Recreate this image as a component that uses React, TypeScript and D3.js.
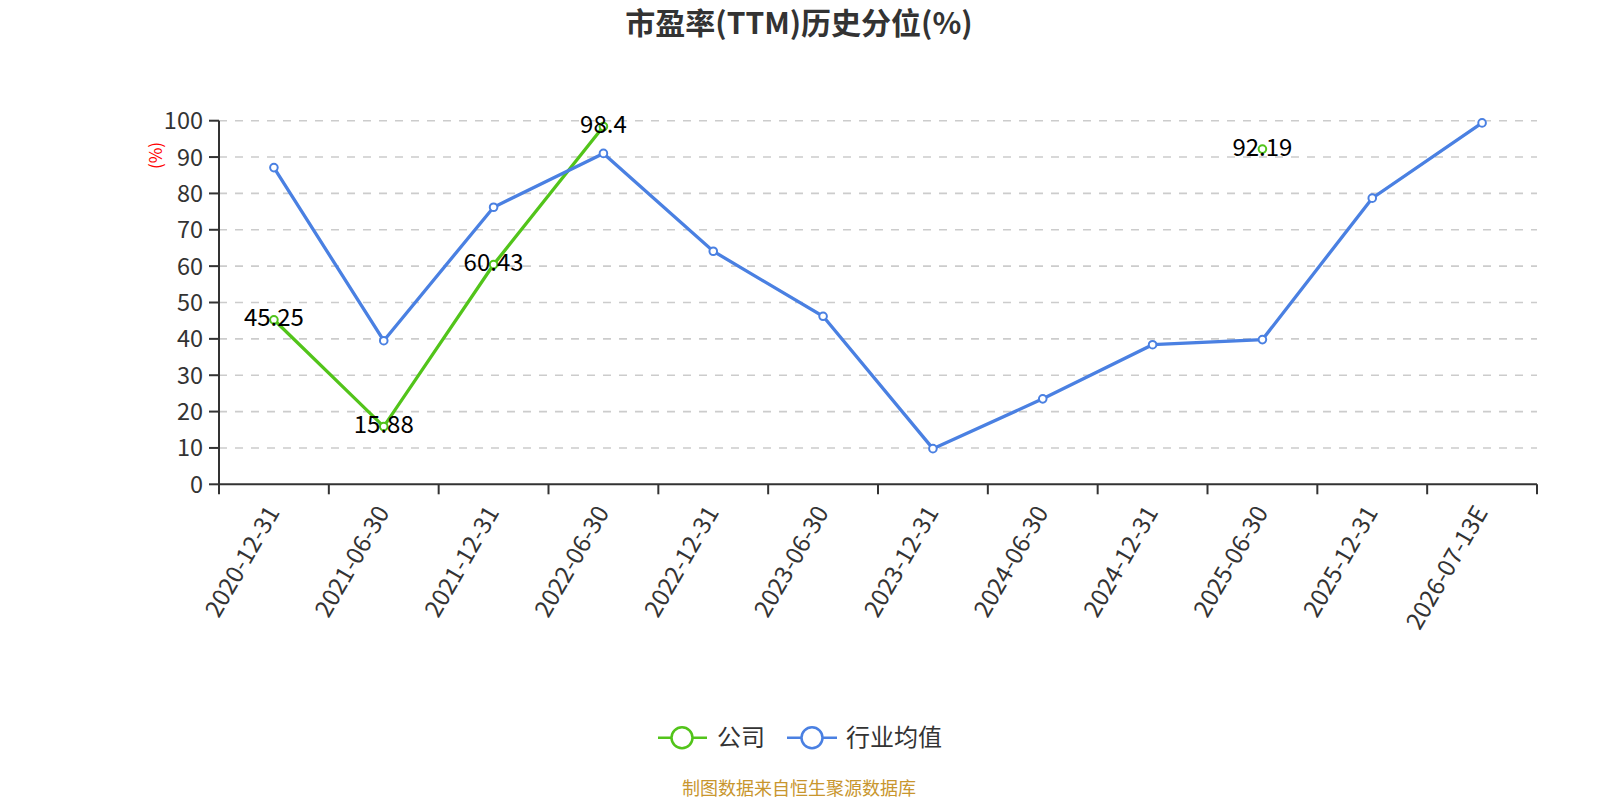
import React from "react";
import * as d3 from "d3";

const categories = [
  "2020-12-31", "2021-06-30", "2021-12-31", "2022-06-30", "2022-12-31", "2023-06-30",
  "2023-12-31", "2024-06-30", "2024-12-31", "2025-06-30", "2025-12-31", "2026-07-13E",
];
const companyValues: (number | null)[] = [45.25, 15.88, 60.43, 98.4, null, null, null, null, null, 92.19, null, null];
const industryValues: (number | null)[] = [87.1, 39.5, 76.2, 91.0, 64.1, 46.2, 9.8, 23.5, 38.4, 39.8, 78.7, 99.4];
const yTicks = [0, 10, 20, 30, 40, 50, 60, 70, 80, 90, 100];

const W = 1600, H = 800;
const left = 219, right = 1537, top = 120.7, bottom = 484.3;
const GREEN = "#52C41A";
const BLUE = "#4A80E2";
const FONT = "'Noto Sans CJK SC', 'Noto Sans', sans-serif";

export default function App() {
  const x = d3.scaleBand().domain(categories).range([left, right]).padding(0);
  const y = d3.scaleLinear().domain([0, 100]).range([bottom, top]);
  const cx = (i: number) => (x(categories[i]) as number) + x.bandwidth() / 2;

  const line = d3
    .line<number | null>()
    .defined((d) => d !== null)
    .x((_, i) => cx(i))
    .y((d) => y(d as number));

  const boundaries = categories.map((c) => x(c) as number).concat([right]);

  return (
    <svg width={W} height={H} style={{ display: "block", position: "absolute", left: 0, top: 0 }} fontFamily={FONT}>
      <rect width={W} height={H} fill="#fff" />
      <text x={799} y={34} textAnchor="middle" fontSize={30} fontWeight="bold" fill="#333">
        市盈率(TTM)历史分位(%)
      </text>

      {/* grid */}
      {yTicks.filter((t) => t > 0).map((t) => (
        <line key={t} x1={left} x2={right} y1={y(t)} y2={y(t)} stroke="#ccc" strokeDasharray="8,8" strokeWidth={1.6} />
      ))}

      {/* y axis */}
      <line x1={left} x2={left} y1={top} y2={bottom} stroke="#333" strokeWidth={2} />
      {yTicks.map((t) => (
        <g key={t}>
          <line x1={left - 10} x2={left} y1={y(t)} y2={y(t)} stroke="#333" strokeWidth={2} />
          <text x={left - 16} y={y(t)} dy="0.36em" textAnchor="end" fontSize={23.5} fill="#333">
            {t}
          </text>
        </g>
      ))}
      <text transform={`translate(162,155.5) rotate(-90)`} textAnchor="middle" fontSize={17} fill="red">
        (%)
      </text>

      {/* x axis */}
      <line x1={left} x2={right} y1={bottom} y2={bottom} stroke="#333" strokeWidth={2} />
      {boundaries.map((b, i) => (
        <line key={i} x1={b} x2={b} y1={bottom} y2={bottom + 10} stroke="#333" strokeWidth={2} />
      ))}
      {categories.map((c, i) => (
        <text
          key={c}
          transform={`translate(${cx(i) - 4},${bottom + 22}) rotate(-60)`}
          textAnchor="end"
          dy="0.5em"
          fontSize={24}
          fill="#333"
        >
          {c}
        </text>
      ))}

      {/* company line */}
      <path d={line(companyValues) || ""} fill="none" stroke={GREEN} strokeWidth={3.3} />
      {companyValues.map((v, i) =>
        v === null ? null : <circle key={i} cx={cx(i)} cy={y(v)} r={3.8} fill="#fff" stroke={GREEN} strokeWidth={2} />
      )}

      {/* industry line */}
      <path d={line(industryValues) || ""} fill="none" stroke={BLUE} strokeWidth={3.3} />
      {industryValues.map((v, i) =>
        v === null ? null : <circle key={i} cx={cx(i)} cy={y(v)} r={3.8} fill="#fff" stroke={BLUE} strokeWidth={2} />
      )}

      {/* labels */}
      {companyValues.map((v, i) =>
        v === null ? null : (
          <text key={i} x={cx(i)} y={y(v)} dy="0.28em" textAnchor="middle" fontSize={24} fill="#000">
            {String(v)}
          </text>
        )
      )}

      {/* legend */}
      <g>
        <line x1={658} x2={707} y1={737.7} y2={737.7} stroke={GREEN} strokeWidth={2.5} />
        <circle cx={682} cy={737.7} r={10.5} fill="#fff" stroke={GREEN} strokeWidth={2.5} />
        <text x={717} y={737.7} dy="0.36em" fontSize={24} fill="#333">公司</text>
        <line x1={787} x2={837} y1={737.7} y2={737.7} stroke={BLUE} strokeWidth={2.5} />
        <circle cx={812} cy={737.7} r={10.5} fill="#fff" stroke={BLUE} strokeWidth={2.5} />
        <text x={846} y={737.7} dy="0.36em" fontSize={24} fill="#333">行业均值</text>
      </g>

      <text x={799} y={795} textAnchor="middle" fontSize={18} fill="#C8962E">
        制图数据来自恒生聚源数据库
      </text>
    </svg>
  );
}
